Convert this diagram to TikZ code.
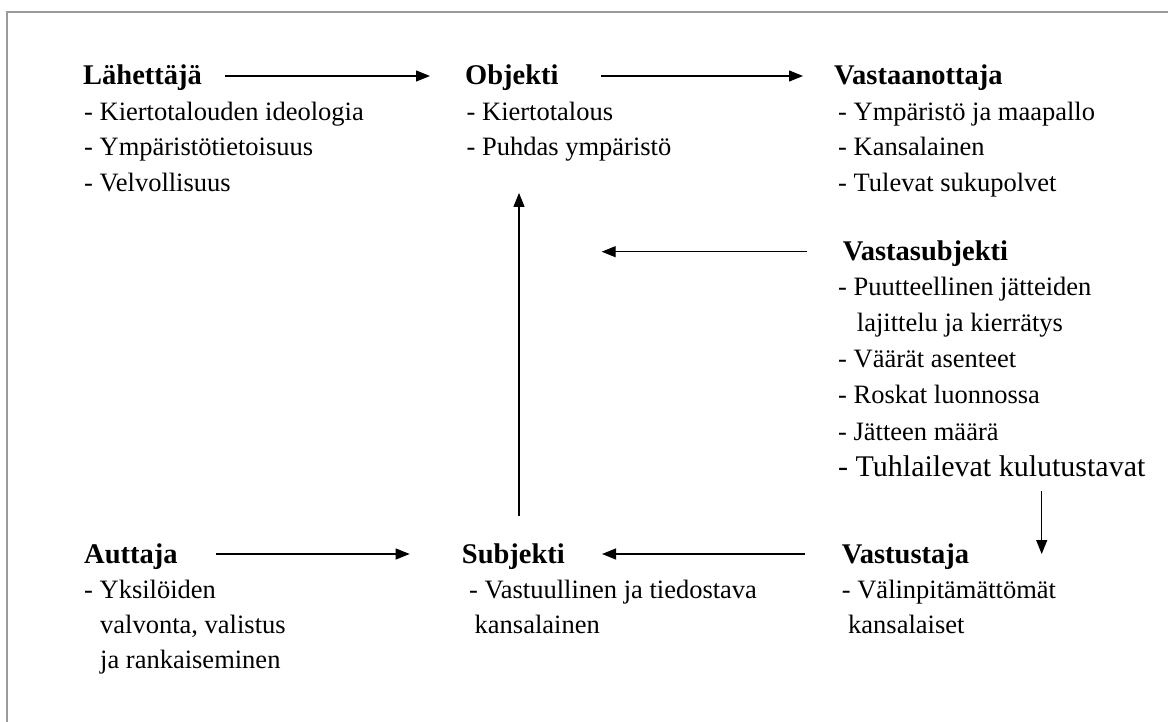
\documentclass[tikz,border=0pt]{standalone}
\usepackage{tikz}
\usepackage{xcolor}
\usepackage{fontspec}
\setmainfont{Liberation Serif}
\usetikzlibrary{arrows.meta}

\begin{document}
\begin{tikzpicture}[x=1pt,y=1pt,yscale=-1,xscale=1,
            head/.style={anchor=base west,inner sep=0pt,text height=18pt,text depth=0pt,font={\fontsize{28.5}{34}\selectfont\bfseries}},
            item/.style={anchor=base west,inner sep=0pt,font={\fontsize{26.5}{32}\selectfont}},
            arr/.style={line width=1.2,-{Triangle[length=14pt,width=11pt]}}]
            \useasboundingbox (0,0) rectangle (1168,722);
            
            %Straight Lines 
            \draw [color={rgb, 255:red, 155; green, 155; blue, 155 }, line width=2.2] (7.2,722) -- (7.2,12.2) -- (1168,12.2) ;
            
            % Text Node
            \node (lah) [head] at (83,85) {Lähettäjä};
            % Text Node
            \node (lah1) [item] at (84,120.5) {- Kiertotalouden ideologia};
            % Text Node
            \node (lah2) [item] at (84,156) {- Ympäristötietoisuus};
            % Text Node
            \node (lah3) [item] at (84,191.5) {- Velvollisuus};
            
            % Text Node
            \node (obj) [head] at (465,85) {Objekti};
            % Text Node
            \node (obj1) [item] at (466.5,120.5) {- Kiertotalous};
            % Text Node
            \node (obj2) [item] at (466.5,156) {- Puhdas ympäristö};
            
            % Text Node
            \node (vast) [head] at (834,85) {Vastaanottaja};
            % Text Node
            \node (vast1) [item] at (838,120.5) {- Ympäristö ja maapallo};
            % Text Node
            \node (vast2) [item] at (838,156) {- Kansalainen};
            % Text Node
            \node (vast3) [item] at (838,191.5) {- Tulevat sukupolvet};
            
            % Text Node
            \node (vsub) [head] at (842.7,260.7) {Vastasubjekti};
            % Text Node
            \node (vsub1) [item] at (838,295) {- Puutteellinen jätteiden};
            % Text Node
            \node (vsub2) [item] at (856.7,331) {lajittelu ja kierrätys};
            % Text Node
            \node (vsub3) [item] at (838,367) {- Väärät asenteet};
            % Text Node
            \node (vsub4) [item] at (838,403.5) {- Roskat luonnossa};
            % Text Node
            \node (vsub5) [item] at (838,440) {- Jätteen määrä};
            % Text Node
            \node (vsub6) [item,font={\fontsize{30}{36}\selectfont}] at (838,476.5) {- Tuhlailevat kulutustavat};
            
            % Text Node
            \node (aut) [head] at (84,563) {Auttaja};
            % Text Node
            \node (aut1) [item] at (84,598) {- Yksilöiden};
            % Text Node
            \node (aut2) [item] at (100,633) {valvonta, valistus};
            % Text Node
            \node (aut3) [item] at (100,668) {ja rankaiseminen};
            
            % Text Node
            \node (subj) [head] at (461.7,563) {Subjekti};
            % Text Node
            \node (subj1) [item] at (469,598) {- Vastuullinen ja tiedostava};
            % Text Node
            \node (subj2) [item] at (474.5,633) {kansalainen};
            
            % Text Node
            \node (vastus) [head] at (841.7,563) {Vastustaja};
            % Text Node
            \node (vastus1) [item] at (841.7,598) {- Välinpitämättömät};
            % Text Node
            \node (vastus2) [item] at (848,633) {kansalaiset};
            
            \coordinate (midtip) at (601.7,0);
            \coordinate (upx) at (519,0);
            \coordinate (dnx) at (1041.7,0);
            
            %Straight Lines 
            \draw [arr, shorten <=23pt, shorten >=35pt] (lah) -- (obj) ;
            %Straight Lines 
            \draw [arr, shorten <=42pt, shorten >=31pt] (obj) -- (vast) ;
            %Straight Lines 
            \draw [arr, shorten <=36pt] (vsub) -- (vsub -| midtip) ;
            %Straight Lines 
            \draw [arr, shorten <=29pt, shorten >=31pt] (subj.north -| upx) -- (obj2.south -| upx) ;
            %Straight Lines 
            \draw [arr, shorten <=14pt] (vsub6.south -| dnx) -- (vastus.east -| dnx) ;
            %Straight Lines 
            \draw [arr, shorten <=38pt, shorten >=52pt] (aut) -- (subj) ;
            %Straight Lines 
            \draw [arr, shorten <=37pt, shorten >=37pt] (vastus) -- (subj) ;
            
\end{tikzpicture}
\end{document}
